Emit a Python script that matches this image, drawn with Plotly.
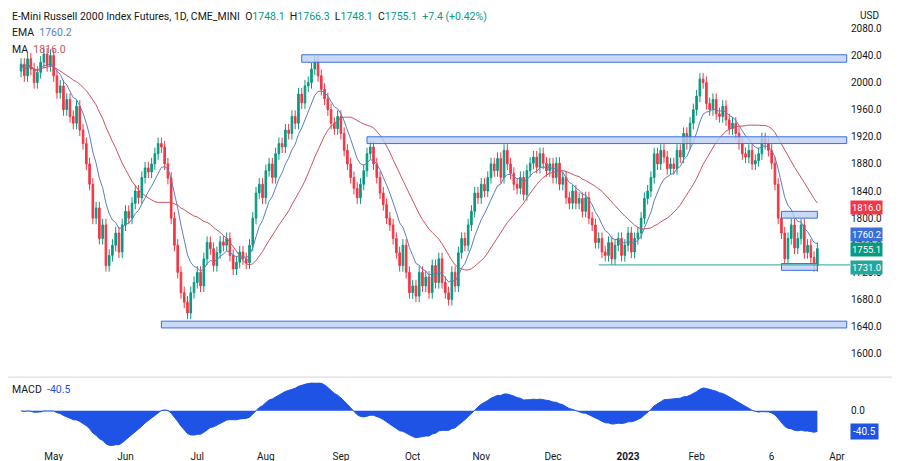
import pandas as pd
import plotly.graph_objects as go
from plotly.subplots import make_subplots

# daily closes (Apr 2022 - Mar 2023)
closes = [
    2027, 2010, 2035, 2020, 2000, 2015, 2030, 2042, 2025, 2040,
    2010, 1985, 1995, 1960, 1975, 1950, 1940, 1965, 1930, 1910,
    1880, 1850, 1800, 1815, 1770, 1790, 1730, 1745, 1760, 1778,
    1750, 1790, 1810, 1800, 1822, 1840, 1830, 1860, 1874, 1868,
    1880, 1895, 1910, 1905, 1880, 1859, 1800, 1760, 1720, 1690,
    1676, 1660, 1690, 1705, 1720, 1700, 1740, 1764, 1755, 1730,
    1749, 1765, 1760, 1770, 1745, 1725, 1735, 1750, 1740, 1734,
    1760, 1800, 1837, 1850, 1830, 1870, 1880, 1860, 1895, 1910,
    1905, 1930, 1925, 1950, 1940, 1983, 1970, 1995, 2000, 2020,
    2030, 2010, 1990, 1976, 1960, 1940, 1932, 1950, 1925, 1900,
    1880, 1860, 1844, 1830, 1850, 1870, 1895, 1905, 1880, 1860,
    1837, 1820, 1800, 1790, 1770, 1749, 1730, 1760, 1720, 1690,
    1700, 1685, 1720, 1700, 1713, 1690, 1730, 1705, 1740, 1705,
    1690, 1680, 1720, 1700, 1749, 1770, 1760, 1790, 1810, 1837,
    1830, 1850, 1840, 1860, 1880, 1870, 1888, 1860, 1900, 1880,
    1866, 1850, 1844, 1860, 1835, 1870, 1881, 1890, 1875, 1895,
    1881, 1870, 1880, 1860, 1881, 1850, 1860, 1830, 1822, 1840,
    1822, 1829, 1810, 1830, 1800, 1790, 1764, 1770, 1750, 1745,
    1764, 1740, 1760, 1770, 1745, 1760, 1778, 1750, 1770, 1778,
    1800, 1829, 1840, 1860, 1895, 1880, 1900, 1890, 1873, 1880,
    1873, 1900, 1890, 1925, 1910, 1940, 1960, 1980, 2005, 2000,
    1969, 1960, 1975, 1954, 1950, 1965, 1945, 1932, 1940, 1925,
    1910, 1895, 1890, 1900, 1880, 1885, 1895, 1917, 1910, 1900,
    1881, 1850, 1800, 1778, 1740, 1770, 1790, 1756, 1770, 1790,
    1749, 1760, 1742, 1730, 1755,
]
wick = 9

# zones drawn on the chart: (start, end, low, high)
zones = [
    ("2022-08-16", "2023-04-06", 2030, 2041),
    ("2022-09-13", "2023-04-06", 1910, 1920),
    ("2022-06-16", "2023-04-06", 1638, 1648),
    ("2023-03-09", "2023-03-24", 1800, 1810),
    ("2023-03-09", "2023-03-24", 1723, 1733),
]
level_1731 = ("2022-12-21", 1731.0)

tick_dates = ["2022-05-02", "2022-06-01", "2022-07-01", "2022-08-01", "2022-09-01",
              "2022-10-03", "2022-11-01", "2022-12-01", "2023-01-03", "2023-02-01",
              "2023-03-06", "2023-04-03"]
tick_text = ["May", "Jun", "Jul", "Aug", "Sep", "Oct", "Nov", "Dec", "<b>2023</b>",
             "Feb", "6", "Apr"]

dates = pd.bdate_range(end="2023-03-24", periods=len(closes))
df = pd.DataFrame({"close": closes}, index=dates)
df["open"] = df["close"].shift(1).fillna(df["close"].iloc[0] - 10)
df["high"] = df[["open", "close"]].max(axis=1) + wick
df["low"] = df[["open", "close"]].min(axis=1) - wick
ema = df["close"].ewm(span=9, adjust=False).mean()
ma = df["close"].rolling(24, min_periods=1).mean()
macd = df["close"].ewm(span=12, adjust=False).mean() - df["close"].ewm(span=26, adjust=False).mean()

fig = make_subplots(rows=2, cols=1, shared_xaxes=True)
fig.add_trace(go.Candlestick(
    x=dates, open=df["open"], high=df["high"], low=df["low"], close=df["close"],
    increasing=dict(line=dict(color="#089981", width=1), fillcolor="#089981"),
    decreasing=dict(line=dict(color="#f23645", width=1), fillcolor="#f23645"),
    whiskerwidth=0, showlegend=False), row=1, col=1)
fig.add_trace(go.Scatter(x=dates, y=ema, mode="lines", line=dict(color="#5b7fc0", width=1),
                         showlegend=False), row=1, col=1)
fig.add_trace(go.Scatter(x=dates, y=ma, mode="lines", line=dict(color="#c9545f", width=1),
                         showlegend=False), row=1, col=1)
fig.add_trace(go.Scatter(x=dates, y=macd, mode="lines", fill="tozeroy",
                         fillcolor="#1e53e5", line=dict(color="#1e53e5", width=1),
                         showlegend=False), row=2, col=1)

for x0, x1, lo, hi in zones:
    fig.add_shape(type="rect", x0=x0, x1=x1, y0=lo, y1=hi, xref="x", yref="y",
                  fillcolor="rgba(187,208,245,0.8)", line=dict(color="#3b6fd8", width=1))
fig.add_shape(type="line", x0=level_1731[0], x1="2023-04-12", y0=level_1731[1],
              y1=level_1731[1], xref="x", yref="y", line=dict(color="#26a69a", width=1))

labels = [(1816.0, "#f23645", 0), (1760.2, "#3b6fd8", 11), (1755.1, "#089981", -1),
          (1731.0, "#26a69a", -3)]
ann = []
for v, c, sh in labels:
    ann.append(dict(x=1, xref="paper", y=v, yref="y", text=f"{v:.1f}", showarrow=False,
                    xanchor="left", bgcolor=c, font=dict(color="white", size=9.5), borderpad=1,
                    yshift=sh))
ann.append(dict(x=1, xref="paper", y=macd.iloc[-1], yref="y2", text=f"{macd.iloc[-1]:.1f}",
                showarrow=False, xanchor="left", bgcolor="#1e53e5",
                font=dict(color="white", size=10), borderpad=2))
hdr = ("E-Mini Russell 2000 Index Futures, 1D, CME_MINI  O<span style='color:#089981'>1748.1</span>"
       "  H<span style='color:#089981'>1766.3</span>  L<span style='color:#089981'>1748.1</span>"
       "  C<span style='color:#089981'>1755.1  +7.4 (+0.42%)</span>")
for i, t in enumerate([hdr, "EMA  <span style='color:#5b7fc0'>1760.2</span>",
                       "MA  <span style='color:#c9545f'>1816.0</span>"]):
    ann.append(dict(x=0.002, y=1 - i * 0.037, xref="paper", yref="paper", text=t,
                    showarrow=False, xanchor="left", yanchor="top", font=dict(size=10.5)))
ann.append(dict(x=0.002, y=0.155, xref="paper", yref="paper", showarrow=False, xanchor="left",
                yanchor="top", text="MACD  <span style='color:#1e53e5'>%.1f</span>" % macd.iloc[-1],
                font=dict(size=10.5)))
ann.append(dict(x=1.01, y=1, xref="paper", yref="paper", text="USD", showarrow=False,
                xanchor="left", yanchor="top", font=dict(size=10)))

fig.update_layout(
    width=900, height=461, margin=dict(l=0, r=58, t=0, b=20),
    plot_bgcolor="white", paper_bgcolor="white",
    font=dict(family="Roboto", size=10, color="#131722"),
    annotations=ann,
    xaxis=dict(rangeslider_visible=False, showgrid=False),
    xaxis2=dict(showgrid=False, tickvals=tick_dates, ticktext=tick_text, ticks=""),
    yaxis=dict(domain=[0.17, 1.0], side="right", range=[1570, 2110], dtick=40,
               tickformat=".1f", showgrid=False, ticks=""),
    yaxis2=dict(domain=[0.0, 0.15], side="right", tickvals=[0], ticktext=["0.0"],
                showgrid=False, zeroline=False, range=[-75, 55]),
)
fig.update_xaxes(range=[dates[0] - pd.Timedelta(days=6), pd.Timestamp("2023-04-07")],
                 rangebreaks=[dict(bounds=["sat", "mon"])], showline=False)
fig.add_shape(type="line", xref="paper", yref="paper", x0=0, x1=1.08, y0=0.163, y1=0.163,
              line=dict(color="#d1d4dc", width=1))

fig.write_html("out.html")
